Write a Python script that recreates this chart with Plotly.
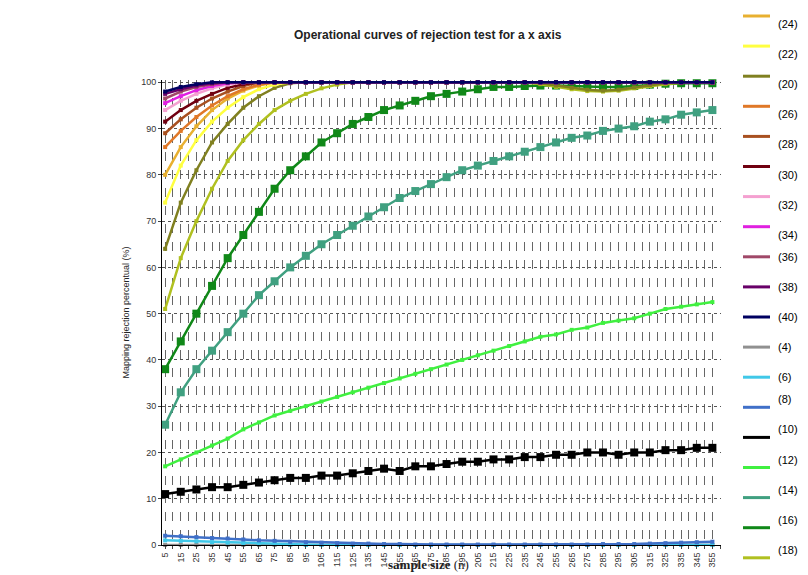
import plotly.graph_objects as go

x = [5,15,25,35,45,55,65,75,85,95,105,115,125,135,145,155,165,175,185,195,205,215,225,235,245,255,265,275,285,295,305,315,325,335,345,355]

s40 = [98,99,99.6,100,100,100,100,100,100,100,100,100,100,100,100,100,100,100,100,100,100,100,100,100,100,100,100,100,100,100,100,100,100,100,100,100]
s38 = [97.5,98.5,99.3,99.8,100,100,100,100,100,100,100,100,100,100,100,100,100,100,100,100,100,100,100,100,100,100,100,100,100,100,100,100,100,100,100,100]
s36 = [96.5,98,99,99.6,100,100,100,100,100,100,100,100,100,100,100,100,100,100,100,100,100,100,100,100,100,100,100,100,100,100,100,100,100,100,100,100]
s34 = [95.5,97,98.3,99.2,99.8,100,100,100,100,100,100,100,100,100,100,100,100,100,100,100,100,100,100,100,100,100,100,100,100,100,100,100,100,100,100,100]
s32 = [94,96,97.5,98.7,99.5,100,100,100,100,100,100,100,100,100,100,100,100,100,100,100,100,100,100,100,100,100,100,100,100,100,100,100,100,100,100,100]
s30 = [91.5,94,96,97.5,98.8,99.6,100,100,100,100,100,100,100,100,100,100,100,100,100,100,100,100,100,100,100,100,100,100,100,100,100,100,100,100,100,100]
s28 = [89,92,94.5,96.5,98,99.2,100,100,100,100,100,100,100,100,100,100,100,100,100,100,100,100,100,100,100,100,100,100,100,100,100,100,100,100,100,100]
s26 = [86,89.5,92.5,95,97,98.5,99.5,100,100,100,100,100,100,100,100,100,100,100,100,100,100,100,100,100,100,100,100,100,100,100,100,100,100,100,100,100]
s24 = [80,86,90.5,94,96.5,98.2,99.3,100,100,100,100,100,100,100,100,100,100,100,100,100,100,100,100,100,100,100,100,100,100,100,100,100,100,100,100,100]
s22 = [74,82,87.5,91.5,94.5,96.8,98.5,99.5,100,100,100,100,100,100,100,100,100,100,100,100,100,100,100,100,100,100,100,100,100,100,100,100,100,100,100,100]
s20 = [64,74,81,87,91,94.5,97,98.8,99.8,100,100,100,100,100,100,100,100,100,100,100,100,100,100,100,99.8,99.3,98.8,98.4,98.2,98.4,98.9,99.4,99.8,100,100,100]
s18 = [51,62,70,77,83,87.5,91,94,96,97.5,98.7,99.5,100,100,100,100,100,100,100,100,100,100,100,100,99.6,99,98.5,98.1,98,98.2,98.7,99.2,99.6,99.9,100,100]
s16 = [38,44,50,56,62,67,72,77,81,84,87,89,91,92.5,94,95,96,97,97.5,98,98.5,99,99,99.2,99.3,99.3,99.2,99,99,99,99.2,99.5,99.7,99.8,99.8,99.8]
s14 = [26,33,38,42,46,50,54,57,60,62.5,65,67,69,71,73,75,76.5,78,79.5,81,82,83,84,85,86,87,88,88.5,89.5,90,90.5,91.5,92,93,93.5,94]
s12 = [17,18.5,20,21.5,23,25,26.5,28,29,30,31,32,33,34,35,36,37,38,39,40,41,42,43,44,45,45.5,46.5,47,48,48.5,49,50,51,51.5,52,52.5]
s10 = [11,11.5,12,12.5,12.5,13,13.5,14,14.5,14.5,15,15,15.5,16,16.5,16,17,17,17.5,18,18,18.5,18.5,19,19,19.5,19.5,20,20,19.5,20,20,20.5,20.5,21,21]
s8 = [2,1.9,1.7,1.5,1.4,1.2,1.0,0.9,0.7,0.6,0.5,0.4,0.3,0.3,0.2,0.2,0.1,0.1,0.1,0.1,0.1,0.1,0.1,0.1,0.1,0.1,0.1,0.1,0.2,0.2,0.2,0.3,0.4,0.5,0.6,0.7]
s6 = [1,0.9,0.8,0.6,0.5,0.4,0.3,0.2,0.1,0,0,0,0,0,0,0,0,0,0,0,0,0,0,0,0,0,0,0,0,0,0,0,0,0,0,0]
s4 = [0,0,0,0,0,0,0,0,0,0,0,0,0,0,0,0,0,0,0,0,0,0,0,0,0,0,0,0,0,0,0,0,0,0,0,0]

legend_names = ["(24)","(22)","(20)","(26)","(28)","(30)","(32)","(34)","(36)","(38)","(40)","(4)","(6)","(8)","(10)","(12)","(14)","(16)","(18)"]
colors = {"(24)":"#E8B030","(22)":"#FFFF40","(20)":"#808020","(26)":"#E07828","(28)":"#A85020","(30)":"#700010","(32)":"#F4A0D0","(34)":"#E020E0","(36)":"#A04868","(38)":"#680068","(40)":"#000060","(4)":"#909090","(6)":"#40C8E8","(8)":"#4070C8","(10)":"#000000","(12)":"#40F040","(14)":"#40A080","(16)":"#108818","(18)":"#B0C020"}
series = {"(4)":s4,"(6)":s6,"(8)":s8,"(10)":s10,"(12)":s12,"(14)":s14,"(16)":s16,"(18)":s18,"(20)":s20,"(22)":s22,"(24)":s24,"(26)":s26,"(28)":s28,"(30)":s30,"(32)":s32,"(34)":s34,"(36)":s36,"(38)":s38,"(40)":s40}
big = {"(10)":8,"(14)":8,"(16)":8}

L, R, T, B = 154, 95, 72, 38
W, H = 808, 575
pw, ph = W-L-R, H-T-B

def px(xp): return (xp-L)/pw
def py(yp): return (H-B-yp)/ph

fig = go.Figure()
for name in ["(4)","(6)","(8)","(10)","(12)","(14)","(16)","(18)","(20)","(22)","(24)","(26)","(28)","(30)","(32)","(34)","(36)","(38)","(40)"]:
    fig.add_trace(go.Scatter(x=x, y=series[name], mode="lines+markers", name=name,
        line=dict(color=colors[name], width=2.5),
        marker=dict(color=colors[name], size=big.get(name,4), symbol="square"),
        showlegend=False, cliponaxis=False))

shapes=[]; ann=[]
for i,name in enumerate(legend_names):
    yp = 8 + i*30.1
    shapes.append(dict(type="line", xref="paper", yref="paper", x0=px(735), x1=px(762), y0=py(yp), y1=py(yp), line=dict(color=colors[name], width=3)))
    ann.append(dict(x=px(768), y=py(yp), xref="paper", yref="paper", text=name, showarrow=False, xanchor="left", font=dict(size=11,color="black")))

ann.append(dict(x=px(420), y=py(18), xref="paper", yref="paper", text="<b>Operational curves of rejection test for a x axis</b>", showarrow=False, font=dict(size=12, family="Arial", color="#222")))
ann.append(dict(x=px(420), y=py(566), xref="paper", yref="paper", text="<b>sample size</b> (n)", showarrow=False, font=dict(size=13, family="Liberation Serif", color="#222")))
ann.append(dict(x=px(110), y=0.5, xref="paper", yref="paper", text="Mapping rejection percentual (%)", textangle=-90, showarrow=False, font=dict(size=9, family="Arial", color="#222")))

tickvals = list(range(5,361,5))
ticktext = [str(v) if (v-5)%10==0 else "" for v in tickvals]

fig.update_layout(width=W, height=H, margin=dict(l=L,r=R,t=T,b=B, autoexpand=False), plot_bgcolor="white", paper_bgcolor="white",
    shapes=shapes, annotations=ann, showlegend=False, font=dict(family="Arial", size=9, color="#333"))
fig.update_xaxes(range=[3,360.5], tickmode="array", tickvals=tickvals, ticktext=ticktext, tickangle=-90, automargin=False,
    showgrid=True, gridcolor="#666", griddash="dash", gridwidth=1, showline=True, linecolor="black", ticks="outside", ticklen=3, tickfont=dict(size=9))
fig.update_yaxes(range=[0,100.5], dtick=10, showgrid=True, gridcolor="#555", griddash="dot", showline=True, linecolor="black", ticks="outside", ticklen=3, zeroline=False, automargin=False, tickfont=dict(size=9))
fig.write_html("out.html")
